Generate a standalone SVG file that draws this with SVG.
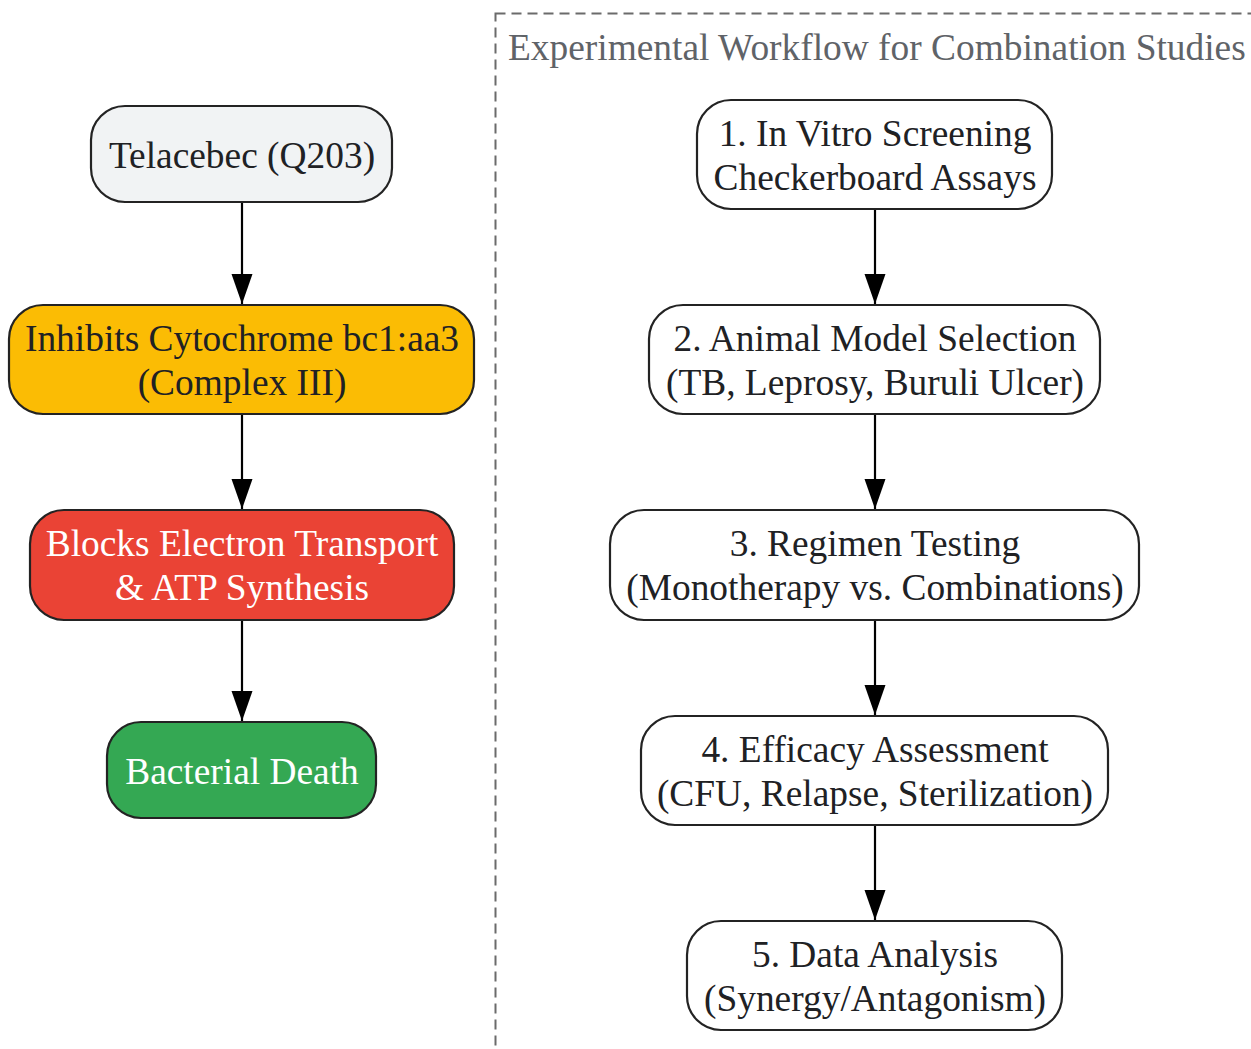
<svg xmlns="http://www.w3.org/2000/svg" width="1251" height="1049" viewBox="0 0 1251 1049">
<defs>
<style>
.node rect{stroke:#232323;stroke-width:2.2}
.t{font-family:"Liberation Serif","Times New Roman",serif;font-size:37.4px;text-anchor:middle;fill:#202124}
.w{fill:#ffffff}
.edge line{stroke:#000;stroke-width:2.2}
.title{font-family:"Liberation Serif","Times New Roman",serif;font-size:37.4px;fill:#5f6368}
</style>
<marker id="ah" markerUnits="userSpaceOnUse" markerWidth="31" markerHeight="22" refX="30" refY="11" orient="auto">
<path d="M0,0.5 L30,11 L0,21.5 Z" fill="#000"/>
</marker>
</defs>
<rect width="1251" height="1049" fill="#fff"/>
<g id="cluster_workflow">
<rect x="495.5" y="13.5" width="800" height="1100" fill="none" stroke="#6b6b6b" stroke-width="2" stroke-dasharray="10,6"/>
<text class="title" x="508" y="60">Experimental Workflow for Combination Studies</text>
</g>
<g id="edges" class="edge">
<line x1="242" y1="202" x2="242" y2="304" marker-end="url(#ah)"/>
<line x1="242" y1="414" x2="242" y2="509" marker-end="url(#ah)"/>
<line x1="242" y1="620" x2="242" y2="721" marker-end="url(#ah)"/>
<line x1="875" y1="209" x2="875" y2="304" marker-end="url(#ah)"/>
<line x1="875" y1="414" x2="875" y2="509" marker-end="url(#ah)"/>
<line x1="875" y1="620" x2="875" y2="715" marker-end="url(#ah)"/>
<line x1="875" y1="825" x2="875" y2="920" marker-end="url(#ah)"/>
</g>
<g id="telacebec" class="node">
<rect x="91" y="106" width="301" height="96" rx="34" fill="#f1f3f4"/>
<text class="t" x="242" y="168">Telacebec (Q203)</text>
</g>
<g id="inhibits" class="node">
<rect x="9" y="305" width="465" height="109" rx="34" fill="#fbbc04"/>
<text class="t" x="242" y="350.5">Inhibits Cytochrome bc1:aa3</text>
<text class="t" x="242" y="394.5">(Complex III)</text>
</g>
<g id="blocks" class="node">
<rect x="30" y="510" width="424" height="110" rx="34" fill="#ea4335"/>
<text class="t w" x="242" y="556">Blocks Electron Transport</text>
<text class="t w" x="242" y="600">&amp; ATP Synthesis</text>
</g>
<g id="death" class="node">
<rect x="107" y="722" width="269" height="96" rx="34" fill="#34a853"/>
<text class="t w" x="242" y="784">Bacterial Death</text>
</g>
<g id="step1" class="node">
<rect x="697" y="100" width="355" height="109" rx="34" fill="#fff"/>
<text class="t" x="875" y="146">1. In Vitro Screening</text>
<text class="t" x="875" y="190">Checkerboard Assays</text>
</g>
<g id="step2" class="node">
<rect x="649" y="305" width="451" height="109" rx="34" fill="#fff"/>
<text class="t" x="875" y="350.5">2. Animal Model Selection</text>
<text class="t" x="875" y="394.5">(TB, Leprosy, Buruli Ulcer)</text>
</g>
<g id="step3" class="node">
<rect x="610" y="510" width="529" height="110" rx="34" fill="#fff"/>
<text class="t" x="875" y="556">3. Regimen Testing</text>
<text class="t" x="875" y="600">(Monotherapy vs. Combinations)</text>
</g>
<g id="step4" class="node">
<rect x="641" y="716" width="467" height="109" rx="34" fill="#fff"/>
<text class="t" x="875" y="761.5">4. Efficacy Assessment</text>
<text class="t" x="875" y="805.5">(CFU, Relapse, Sterilization)</text>
</g>
<g id="step5" class="node">
<rect x="687" y="921" width="375" height="109" rx="34" fill="#fff"/>
<text class="t" x="875" y="966.5">5. Data Analysis</text>
<text class="t" x="875" y="1010.5">(Synergy/Antagonism)</text>
</g>
</svg>
